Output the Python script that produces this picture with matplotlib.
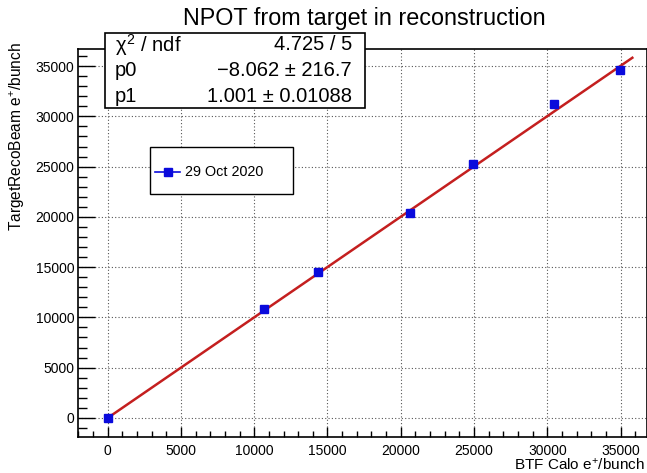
import numpy as np
import matplotlib
matplotlib.use('Agg')
import matplotlib.pyplot as plt
from matplotlib.lines import Line2D
from matplotlib.patches import Rectangle
from matplotlib.ticker import MultipleLocator

plt.rcParams['font.family'] = ['Liberation Sans', 'DejaVu Sans']
plt.rcParams['mathtext.fontset'] = 'custom'
plt.rcParams['mathtext.rm'] = 'Liberation Sans'
plt.rcParams['mathtext.it'] = 'Liberation Sans'

# data
calo = [0, 10675, 14380, 20630, 24950, 30460, 34960]
reco = [0, 10800, 14540, 20410, 25250, 31210, 34660]

# fit result
p0, p0_err = -8.062, 216.7
p1, p1_err = 1.001, 0.01088
chi2, ndf = 4.725, 5
fit_range = (0, 35800)

title = 'NPOT from target in reconstruction'
legend_label = '29 Oct 2020'

W, H = 647, 473
fig = plt.figure(figsize=(W / 100, H / 100), dpi=100)
ax = fig.add_axes([78.3 / W, 1 - 437 / H, (W - 78.3) / W, (437 - 49) / H])

ax.grid(True, linestyle=(0, (1, 2)), color='#555555', linewidth=0.8)
ax.set_axisbelow(True)

xf = np.linspace(fit_range[0], fit_range[1], 2)
ax.plot(xf, p0 + p1 * xf, color='#c41f1f', linewidth=1.8, zorder=3)
ax.plot(calo, reco, linestyle='none', marker='s', markersize=5.8,
        color='#0a0adc', zorder=4)

ax.set_xlim(-2000, 36800)
ax.set_ylim(-1900, 36700)
ax.xaxis.set_major_locator(MultipleLocator(5000))
ax.xaxis.set_minor_locator(MultipleLocator(1000))
ax.yaxis.set_major_locator(MultipleLocator(5000))
ax.yaxis.set_minor_locator(MultipleLocator(1000))
ax.tick_params(axis='x', which='major', direction='in', length=7.5, width=1, labelsize=10, pad=5)
ax.tick_params(axis='x', which='minor', direction='in', length=4.3, width=1)
ax.tick_params(axis='y', which='major', direction='in', length=12, width=1, labelsize=10, pad=3)
ax.tick_params(axis='y', which='minor', direction='in', length=6.5, width=1)
for s in ax.spines.values():
    s.set_linewidth(1.2)

fig.text(364 / W, 1 - 18 / H, title, fontsize=16.8, ha='center', va='center')
fig.text(645 / W, 1 - 465 / H, 'BTF Calo e$^{+}$/bunch', fontsize=11, ha='right', va='center')
fig.text(17 / W, 1 - 42 / H, 'TargetRecoBeam e$^{+}$/bunch', fontsize=11.2,
         rotation=90, ha='center', va='top')

# stats box
fig.patches.append(Rectangle((105 / W, 1 - 108 / H), 260 / W, 75 / H,
                             transform=fig.transFigure, facecolor='white',
                             edgecolor='black', linewidth=1.2, zorder=5))
rows = [('$\\chi^{2}$ / ndf', '%.3f / %d' % (chi2, ndf)),
        ('p0', '\u2212%.3f \u00b1 %.1f' % (-p0, p0_err)),
        ('p1', '%.3f \u00b1 %.5f' % (p1, p1_err))]
for i, (name, val) in enumerate(rows):
    yy = 1 - (45 + 25.5 * i) / H
    fig.text(115 / W, yy, name, fontsize=14.5, ha='left', va='center', zorder=6)
    fig.text(352 / W, yy, val, fontsize=14.5, ha='right', va='center', zorder=6)

# legend box
fig.patches.append(Rectangle((150 / W, 1 - 194 / H), 143 / W, 47 / H,
                             transform=fig.transFigure, facecolor='white',
                             edgecolor='black', linewidth=1.0, zorder=5))
fig.lines.append(Line2D([155 / W, 180 / W], [1 - 172 / H, 1 - 172 / H],
                        transform=fig.transFigure, color='#0a0adc', linewidth=1.2,
                        marker='s', markersize=5.8, markevery=[], zorder=6))
fig.lines.append(Line2D([167.5 / W], [1 - 172 / H], transform=fig.transFigure,
                        color='#0a0adc', marker='s', markersize=5.8, linestyle='none', zorder=7))
fig.text(185 / W, 1 - 172 / H, legend_label, fontsize=10.4, ha='left', va='center', zorder=6)

plt.savefig('out.png', dpi=100)
